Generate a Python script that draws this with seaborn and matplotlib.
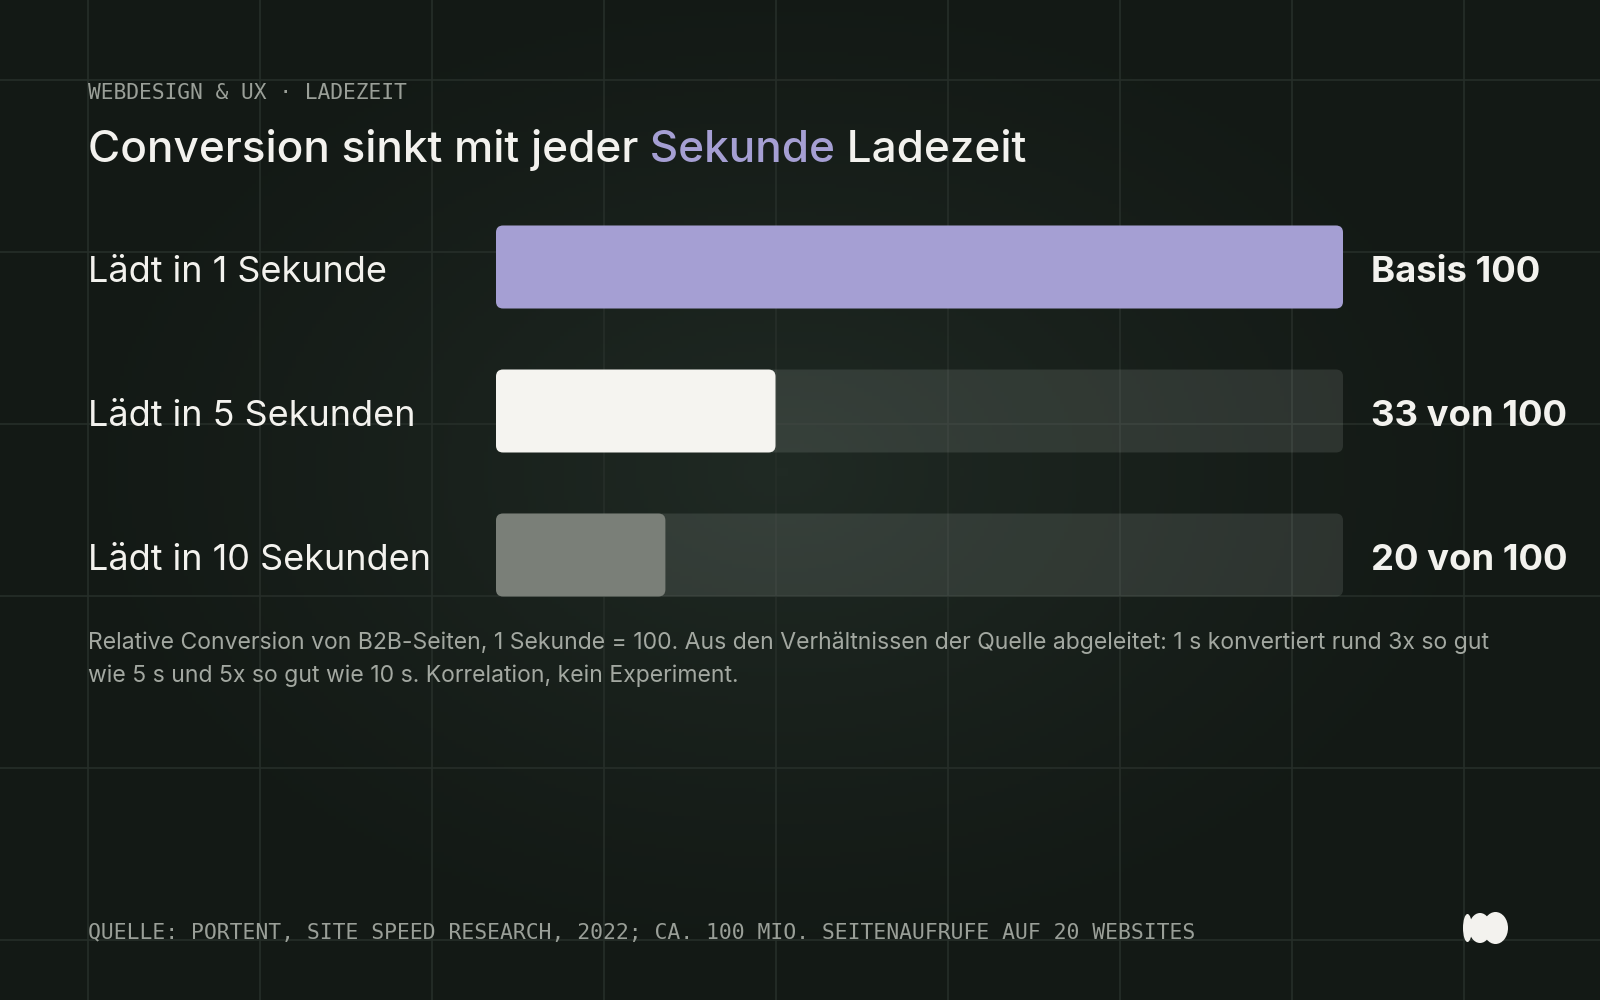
import matplotlib
matplotlib.use("Agg")
import matplotlib.pyplot as plt
import matplotlib.transforms as mtransforms
from matplotlib.colors import LinearSegmentedColormap
from matplotlib.patches import FancyBboxPatch, Ellipse
import seaborn as sns
import numpy as np
import pandas as pd

# data
categories = ["Lädt in 1 Sekunde", "Lädt in 5 Sekunden", "Lädt in 10 Sekunden"]
conversion = [100, 33, 20]
value_labels = ["Basis 100", "33 von 100", "20 von 100"]
scale_max = 100

# texts
kicker = "WEBDESIGN & UX · LADEZEIT"
title_parts = ["Conversion sinkt mit jeder", " Sekunde", " Ladezeit"]
note_lines = [
    "Relative Conversion von B2B-Seiten, 1 Sekunde = 100. Aus den Verhältnissen der Quelle abgeleitet: 1 s konvertiert rund 3x so gut",
    "wie 5 s und 5x so gut wie 10 s. Korrelation, kein Experiment.",
]
source = "QUELLE: PORTENT, SITE SPEED RESEARCH, 2022; CA. 100 MIO. SEITENAUFRUFE AUF 20 WEBSITES"

# colours
BG_DARK = "#131915"
BG_GLOW = "#202a24"
GRID = "#262e29"
TRACK = "#dfe8e1"
BAR_COLORS = ["#a59fd3", "#f5f4f0", "#7a7f78"]
ACCENT = "#a59fd3"
TEXT = "#f3f2ee"
MUTED = "#a3a8a1"
MONO = "#9a9f98"

sns.set_theme(style="white")
plt.rcParams["font.family"] = ["Inter", "DejaVu Sans"]

fig = plt.figure(figsize=(16, 10), dpi=100)
fig.patch.set_facecolor(BG_DARK)

# background in pixel coordinates
bg = fig.add_axes([0, 0, 1, 1])
bg.set_xlim(0, 1600)
bg.set_ylim(1000, 0)
bg.axis("off")

yy, xx = np.mgrid[0:1000:4, 0:1600:4]
r = np.sqrt(((xx - 780) / 760) ** 2 + ((yy - 470) / 520) ** 2)
glow = np.clip(1 - r, 0, 1) ** 1.3
cmap = LinearSegmentedColormap.from_list("glow", [BG_DARK, BG_GLOW])
bg.imshow(glow, cmap=cmap, extent=(0, 1600, 1000, 0), aspect="auto", zorder=0)

for gx in np.arange(88, 1600, 172.0):
    bg.axvline(gx, color=GRID, lw=1.2, zorder=1)
for gy in np.arange(80, 1000, 172.0):
    bg.axhline(gy, color=GRID, lw=1.2, zorder=1)

renderer = fig.canvas.get_renderer()


def fit_size(txt, target_px):
    w = txt.get_window_extent(renderer).width
    size = txt.get_fontsize() * target_px / w
    txt.set_fontsize(size)
    return size


# kicker and source line (monospace)
k = bg.text(88, 93, kicker, color=MONO, fontsize=15, family="DejaVu Sans Mono",
            va="center", ha="left", zorder=5)
fit_size(k, 322)
s = bg.text(88, 933, source, color=MONO, fontsize=15, family="DejaVu Sans Mono",
            va="center", ha="left", zorder=5)
fit_size(s, 1112)

# title with highlighted word
tmp = bg.text(88, 164, "".join(title_parts), fontsize=30, fontweight="medium")
title_size = fit_size(tmp, 939)
tmp.remove()
prev = bg.text(88, 162, title_parts[0], color=TEXT, fontsize=title_size,
               fontweight="medium", va="baseline", ha="left", zorder=5)
for i, part in enumerate(title_parts[1:]):
    col = ACCENT if i == 0 else TEXT
    prev = bg.annotate(part, xy=(1, 0), xycoords=prev, va="bottom", ha="left",
                       color=col, fontsize=title_size, fontweight="medium", zorder=5)

# bars
ax = fig.add_axes([496 / 1600, 1 - 627 / 1000, 847 / 1600, 432 / 1000])
ax.patch.set_alpha(0)
df = pd.DataFrame({"label": categories, "value": conversion,
                   "track": [scale_max] * len(categories)})

sns.barplot(data=df, x="track", y="label", hue="label", palette=[TRACK] * 3,
            legend=False, ax=ax, width=0.576, alpha=0.12, saturation=1)
sns.barplot(data=df, x="value", y="label", hue="label", palette=BAR_COLORS,
            legend=False, ax=ax, width=0.576, saturation=1)
ax.set_xlim(0, scale_max)
ax.set_ylim(len(categories) - 0.5, -0.5)
ax.axis("off")

# round the bar corners
bb = ax.get_window_extent(renderer)
px_x = bb.width / scale_max
px_y = bb.height / len(categories)
for p in list(ax.patches):
    fp = FancyBboxPatch((p.get_x(), p.get_y()), p.get_width(), p.get_height(),
                        boxstyle=f"round,pad=0,rounding_size={7 / px_x}",
                        mutation_aspect=px_x / px_y,
                        facecolor=p.get_facecolor(), edgecolor="none")
    p.remove()
    ax.add_patch(fp)

# category labels on the left
trans = mtransforms.blended_transform_factory(bg.transData, ax.transData)
cat_texts = []
for i, lab in enumerate(categories):
    t = bg.text(88, i + 0.035, lab, transform=trans, color=TEXT, fontsize=24,
                va="center", ha="left", zorder=5)
    cat_texts.append(t)
cat_size = fit_size(cat_texts[0], 300)
for t in cat_texts[1:]:
    t.set_fontsize(cat_size)

# value labels on the right
val_texts = []
for i, lab in enumerate(value_labels):
    t = ax.annotate(lab, xy=(scale_max, i), xytext=(20.2, -3.6), textcoords="offset points",
                    color=TEXT, fontsize=23, fontweight="bold", va="center", ha="left",
                    annotation_clip=False)
    val_texts.append(t)
val_size = fit_size(val_texts[1], 197)
for t in val_texts:
    t.set_fontsize(val_size)

# footnote
n1 = bg.text(88, 643, note_lines[0], color=MUTED, fontsize=15, va="center", ha="left", zorder=5)
note_size = fit_size(n1, 1404)
bg.text(88, 676, note_lines[1], color=MUTED, fontsize=note_size, va="center", ha="left", zorder=5)

# logo mark
for cx, w, h in [(1467.5, 9, 28), (1480, 22, 30), (1495.5, 25, 32)]:
    bg.add_patch(Ellipse((cx, 928), w, h, facecolor=TEXT, edgecolor="none", zorder=6))

plt.savefig("out.png", dpi=100, facecolor=fig.get_facecolor())
plt.close(fig)
